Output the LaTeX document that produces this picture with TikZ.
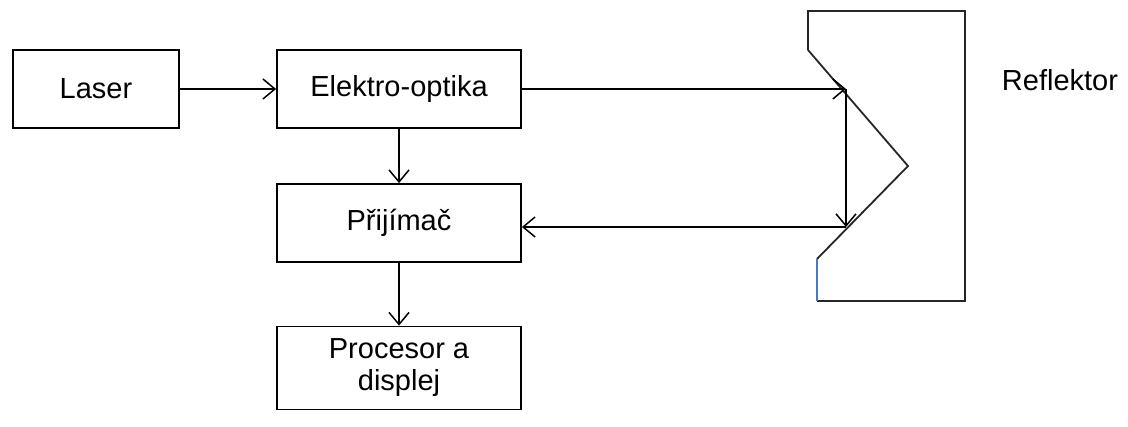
\documentclass[tikz,border=0pt]{standalone}
\usepackage{fontspec}
\setmainfont{Liberation Sans}
\usetikzlibrary{arrows.meta}
\begin{document}
\begin{tikzpicture}[x=1pt,y=-1pt,
  lbl/.style={font=\fontsize{29}{32}\selectfont},
  blk/.style={draw,line width=1.8pt,minimum width=244pt,minimum height=78pt,
    lbl,align=center,inner sep=0pt},
  conn/.style={line width=1.8pt,-{Straight Barb[length=12pt,width=20pt,line width=1.5pt]}},
  refl/.style={line width=1.8pt,draw=black!85}]
\useasboundingbox (0,0) rectangle (1128,427);
% blocks
\node[blk,minimum width=166pt] (laser) at (96,89) {Laser};
\node[blk] (eo) at (399,89) {Elektro-optika};
\node[blk] (rx) at (399,223) {Přijímač};
\node[blk,minimum height=83pt] (proc) at (399,368) {Procesor a\\displej};
% reflector
\coordinate (hitA) at (846,89);
\coordinate (hitB) at (846,227);
\draw[refl] (808,50) -- (808,11) -- (965,11) -- (965,301) -- (817,301);
\draw[refl] (808,50) -- (908,166) -- (817,259);
\draw[line width=1.8pt,draw={rgb,255:red,70;green,120;blue,200}] (817,259) -- (817,301);
\node[lbl] (rlabel) at (1060,80) {Reflektor};
% beam path
\draw[conn] (laser) -- (eo);
\draw[conn] (eo) -- (rx);
\draw[conn] (rx) -- (proc);
\draw[conn] (eo.east) -- (hitA);
\draw[conn] (hitA) -- (hitB);
\draw[conn] (hitB) -- (rx.east |- hitB);
\end{tikzpicture}
\end{document}
